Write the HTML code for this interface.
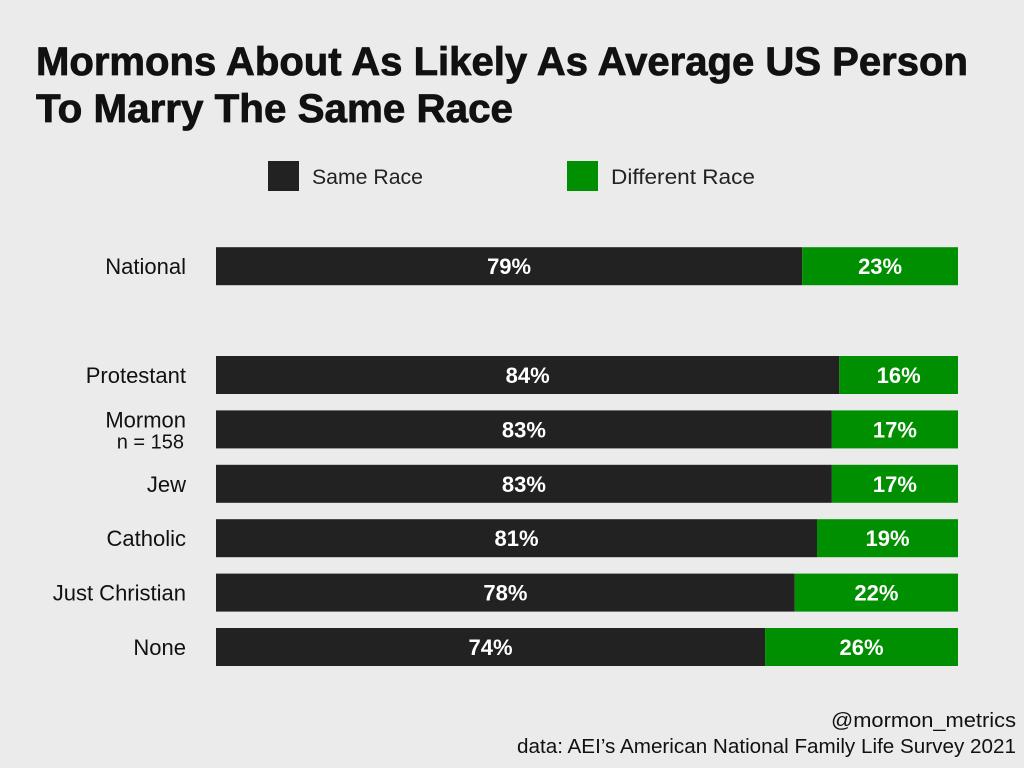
<!DOCTYPE html>
<html><head><meta charset="utf-8"><style>
html,body{margin:0;padding:0;background:#ebebeb;}
svg{display:block;font-family:"Liberation Sans",sans-serif;}
</style></head><body>
<svg id="chart" width="1024" height="768" viewBox="0 0 1024 768">
<rect width="1024" height="768" fill="#ebebeb"/>
<text x="36" y="75" font-size="40" font-weight="bold" fill="#111" stroke="#111" stroke-width="0.8" textLength="932" lengthAdjust="spacingAndGlyphs">Mormons About As Likely As Average US Person</text>
<text x="36" y="122" font-size="40" font-weight="bold" fill="#111" stroke="#111" stroke-width="0.8" textLength="477" lengthAdjust="spacingAndGlyphs">To Marry The Same Race</text>
<g>
<rect x="268" y="161" width="31" height="30" fill="#222"/>
<text x="312" y="184" font-size="21" fill="#222" textLength="111" lengthAdjust="spacingAndGlyphs">Same Race</text>
<rect x="567" y="161" width="31" height="30" fill="#008f00"/>
<text x="611" y="184" font-size="21" fill="#222" textLength="144" lengthAdjust="spacingAndGlyphs">Different Race</text>
</g>
<g id="bars"></g>
<text x="1016" y="727" font-size="20" fill="#111" text-anchor="end" textLength="185" lengthAdjust="spacingAndGlyphs">@mormon_metrics</text>
<text x="1016" y="753" font-size="20" fill="#111" text-anchor="end" textLength="499" lengthAdjust="spacingAndGlyphs">data: AEI’s American National Family Life Survey 2021</text>
</svg>
<script>
const categories = ["National","Protestant","Mormon","Jew","Catholic","Just Christian","None"];
const slots = [-2,0,1,2,3,4,5];
const sameRace = [79,84,83,83,81,78,74];
const diffRace = [23,16,17,17,19,22,26];
const NS = "http://www.w3.org/2000/svg";
const g = document.getElementById("bars");
const x = v => 216 + v/100*742;
const yc = s => 375 + s*54.4;
const bh = 38;
function mk(tag, attrs){const e=document.createElementNS(NS,tag);for(const k in attrs)e.setAttribute(k,attrs[k]);return e;}
categories.forEach((c,i)=>{
  const cy = yc(slots[i]);
  const r1 = mk("rect",{x:x(0),y:cy-bh/2,width:x(sameRace[i])-x(0),height:bh,fill:"#222"});
  
  
  g.appendChild(r1);
  const end = Math.min(sameRace[i]+diffRace[i],100);
  const r2 = mk("rect",{x:x(sameRace[i]),y:cy-bh/2,width:x(end)-x(sameRace[i]),height:bh,fill:"#008f00"});
  
  
  g.appendChild(r2);
  const t1 = mk("text",{x:(x(0)+x(sameRace[i]))/2,y:cy+8,"font-size":22,"font-weight":"bold",fill:"#fff","text-anchor":"middle"});
  t1.textContent = sameRace[i]+"%";
  
  
  g.appendChild(t1);
  const t2 = mk("text",{x:(x(sameRace[i])+x(end))/2,y:cy+8,"font-size":22,"font-weight":"bold",fill:"#fff","text-anchor":"middle"});
  t2.textContent = diffRace[i]+"%";
  
  
  g.appendChild(t2);
  if(c==="Mormon"){
    const a = mk("text",{x:186,y:cy-2,"font-size":22,fill:"#111","text-anchor":"end"});
    a.textContent="Mormon";
    
    
    g.appendChild(a);
    const b = mk("text",{x:184,y:cy+19,"font-size":20,fill:"#111","text-anchor":"end"});
    b.textContent="n = 158";
    
    
    g.appendChild(b);
  } else {
    const l = mk("text",{x:186,y:cy+8,"font-size":22,fill:"#111","text-anchor":"end"});
    l.textContent=c;
    
    
    g.appendChild(l);
  }
});
</script>
</body></html>
